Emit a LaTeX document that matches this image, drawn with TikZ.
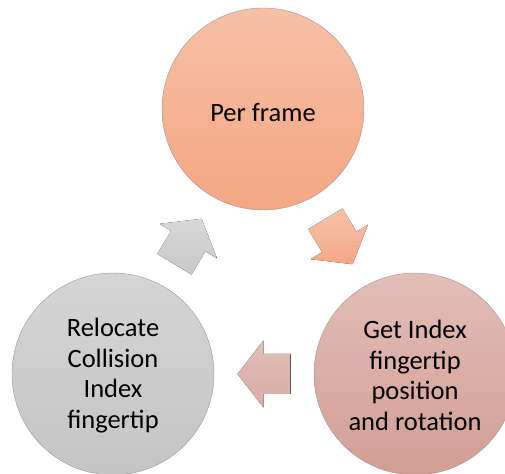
\documentclass[tikz,border=0pt]{standalone}
\usepackage{fontspec}
\setmainfont{Carlito}
\usetikzlibrary{calc}

% fills of the three stages (light top, darker bottom)
\definecolor{peachTop}{RGB}{246,192,167}
\definecolor{peachBot}{RGB}{244,166,130}
\definecolor{roseTop}{RGB}{226,190,183}
\definecolor{roseBot}{RGB}{210,158,148}
\definecolor{greyTop}{RGB}{213,213,213}
\definecolor{greyBot}{RGB}{196,196,196}
% fills of the block arrows
\definecolor{peachArrTop}{RGB}{245,194,170}
\definecolor{peachArrBot}{RGB}{244,168,134}
\definecolor{roseArrTop}{RGB}{225,191,183}
\definecolor{roseArrBot}{RGB}{216,172,163}
\definecolor{greyArrTop}{RGB}{215,215,215}
\definecolor{greyArrBot}{RGB}{200,200,200}

\tikzset{
  stage/.style={circle, minimum size=202pt, inner sep=0pt,
    draw=black!40, line width=0.4pt},
  stagetext/.style={align=center, inner sep=0pt,
    font=\fontsize{26.5}{30.5}\selectfont},
  % block arrow pointing along +x, centred on the origin
  pics/cyclearrow/.style 2 args={code={
    \fill[top color=#1, bottom color=#2]
      (-26.5,-20) -- (0.5,-20) -- (0.5,-33.5) -- (26.5,0)
      -- (0.5,33.5) -- (0.5,20) -- (-26.5,20) -- cycle;
  }}
}

\begin{document}
\begin{tikzpicture}[x=1pt, y=1pt]
  \clip (0,0) rectangle (505,473);

  \node[stage, top color=peachTop, bottom color=peachBot] (frame) at (263,364) {};
  \node[stage, top color=roseTop, bottom color=roseBot] (getpos) at (415,99) {};
  \node[stage, top color=greyTop, bottom color=greyBot] (relocate) at (113,99) {};

  \node[stagetext] (frameText) at ([yshift=-4pt]frame.center) {Per frame};
  \node[stagetext] (getposText) at ([yshift=-1.5pt]getpos.center)
    {Get Index\\fingertip\\position\\and rotation};
  \node[stagetext] (relocateText) at ([yshift=-1.5pt]relocate.center)
    {Relocate\\Collision\\Index\\fingertip};

  \pic[rotate=-59] at ($(frame)!0.5!(getpos)$) {cyclearrow={peachArrTop}{peachArrBot}};
  \pic[rotate=180] at ($(getpos)!0.5!(relocate)$) {cyclearrow={roseArrTop}{roseArrBot}};
  \pic[rotate=59] at ($(relocate)!0.5!(frame)$) {cyclearrow={greyArrTop}{greyArrBot}};
\end{tikzpicture}
\end{document}
